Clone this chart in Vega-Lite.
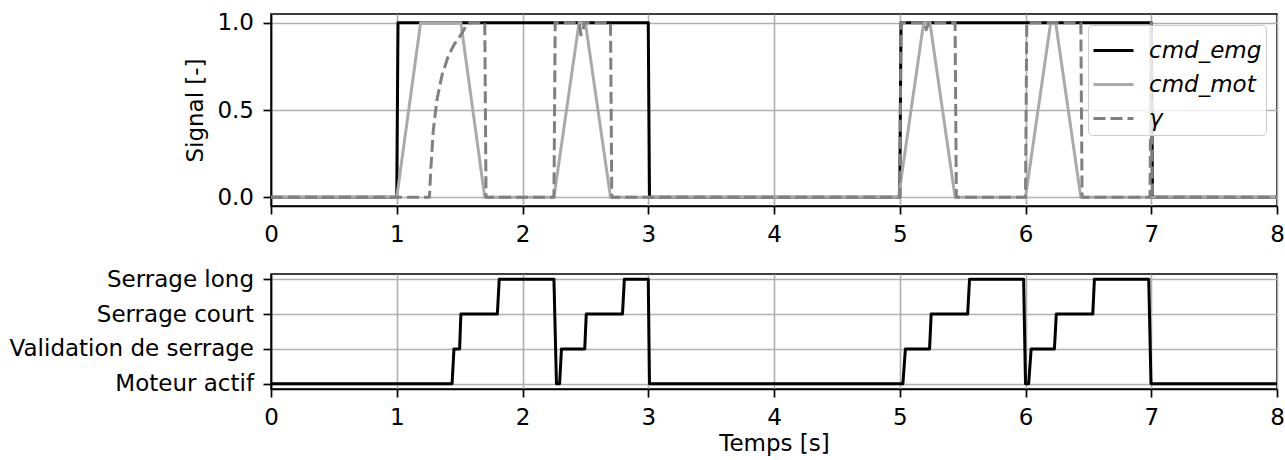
{
  "$schema": "https://vega.github.io/schema/vega-lite/v6.json",
  "padding": {"left": 8, "top": 10, "right": 0, "bottom": 5},
  "bounds": "flush",
  "spacing": 68,
  "datasets": {
    "sig": [
      {"t": 0, "v": 0, "s": "cmd_emg"}, {"t": 1.0, "v": 0, "s": "cmd_emg"}, {"t": 1.01, "v": 1, "s": "cmd_emg"}, {"t": 3.0, "v": 1, "s": "cmd_emg"}, {"t": 3.01, "v": 0, "s": "cmd_emg"}, {"t": 5.0, "v": 0, "s": "cmd_emg"}, {"t": 5.01, "v": 1, "s": "cmd_emg"}, {"t": 7.0, "v": 1, "s": "cmd_emg"}, {"t": 7.01, "v": 0, "s": "cmd_emg"}, {"t": 8, "v": 0, "s": "cmd_emg"},
      {"t": 0, "v": 0, "s": "cmd_mot"}, {"t": 1.0, "v": 0, "s": "cmd_mot"}, {"t": 1.19, "v": 1, "s": "cmd_mot"}, {"t": 1.51, "v": 1, "s": "cmd_mot"}, {"t": 1.70, "v": 0, "s": "cmd_mot"}, {"t": 2.25, "v": 0, "s": "cmd_mot"}, {"t": 2.45, "v": 1, "s": "cmd_mot"}, {"t": 2.50, "v": 1, "s": "cmd_mot"}, {"t": 2.70, "v": 0, "s": "cmd_mot"}, {"t": 4.99, "v": 0, "s": "cmd_mot"}, {"t": 5.19, "v": 1, "s": "cmd_mot"}, {"t": 5.24, "v": 1, "s": "cmd_mot"}, {"t": 5.44, "v": 0, "s": "cmd_mot"}, {"t": 6.0, "v": 0, "s": "cmd_mot"}, {"t": 6.20, "v": 1, "s": "cmd_mot"}, {"t": 6.24, "v": 1, "s": "cmd_mot"}, {"t": 6.44, "v": 0, "s": "cmd_mot"}, {"t": 8, "v": 0, "s": "cmd_mot"},
      {"t": 0, "v": 0, "s": "γ"}, {"t": 1.26, "v": 0, "s": "γ"}, {"t": 1.27, "v": 0.15, "s": "γ"}, {"t": 1.29, "v": 0.38, "s": "γ"}, {"t": 1.32, "v": 0.56, "s": "γ"}, {"t": 1.36, "v": 0.70, "s": "γ"}, {"t": 1.41, "v": 0.81, "s": "γ"}, {"t": 1.46, "v": 0.88, "s": "γ"}, {"t": 1.51, "v": 0.93, "s": "γ"}, {"t": 1.55, "v": 0.98, "s": "γ"}, {"t": 1.58, "v": 1, "s": "γ"}, {"t": 1.70, "v": 1, "s": "γ"}, {"t": 1.71, "v": 0, "s": "γ"}, {"t": 2.25, "v": 0, "s": "γ"}, {"t": 2.26, "v": 1, "s": "γ"}, {"t": 2.45, "v": 1, "s": "γ"}, {"t": 2.465, "v": 0.93, "s": "γ"}, {"t": 2.48, "v": 0.95, "s": "γ"}, {"t": 2.49, "v": 1, "s": "γ"}, {"t": 2.70, "v": 1, "s": "γ"}, {"t": 2.71, "v": 0, "s": "γ"}, {"t": 5.0, "v": 0, "s": "γ"}, {"t": 5.01, "v": 1, "s": "γ"}, {"t": 5.2, "v": 1, "s": "γ"}, {"t": 5.21, "v": 0.96, "s": "γ"}, {"t": 5.23, "v": 1, "s": "γ"}, {"t": 5.44, "v": 1, "s": "γ"}, {"t": 5.45, "v": 0, "s": "γ"}, {"t": 6.0, "v": 0, "s": "γ"}, {"t": 6.01, "v": 1, "s": "γ"}, {"t": 6.44, "v": 1, "s": "γ"}, {"t": 6.45, "v": 0, "s": "γ"}, {"t": 6.99, "v": 0, "s": "γ"}, {"t": 7.0, "v": 1, "s": "γ"}, {"t": 7.01, "v": 0, "s": "γ"}, {"t": 8, "v": 0, "s": "γ"}
    ],
    "state": [
      {"t": 0, "q": 0}, {"t": 1.44, "q": 0}, {"t": 1.455, "q": 1}, {"t": 1.50, "q": 1}, {"t": 1.51, "q": 2}, {"t": 1.80, "q": 2}, {"t": 1.815, "q": 3}, {"t": 2.25, "q": 3}, {"t": 2.27, "q": 0}, {"t": 2.295, "q": 0}, {"t": 2.31, "q": 1}, {"t": 2.495, "q": 1}, {"t": 2.507, "q": 2}, {"t": 2.795, "q": 2}, {"t": 2.81, "q": 3}, {"t": 3.0, "q": 3}, {"t": 3.01, "q": 0},
      {"t": 5.025, "q": 0}, {"t": 5.045, "q": 1}, {"t": 5.237, "q": 1}, {"t": 5.25, "q": 2}, {"t": 5.54, "q": 2}, {"t": 5.555, "q": 3}, {"t": 5.985, "q": 3}, {"t": 6.0, "q": 0}, {"t": 6.025, "q": 0}, {"t": 6.045, "q": 1}, {"t": 6.23, "q": 1}, {"t": 6.245, "q": 2}, {"t": 6.535, "q": 2}, {"t": 6.548, "q": 3}, {"t": 6.98, "q": 3}, {"t": 6.998, "q": 0}, {"t": 8, "q": 0}
    ]
  },
  "vconcat": [
    {
      "width": 1006,
      "height": 192,
      "data": {"name": "sig"},
      "encoding": {
        "x": {"field": "t", "type": "quantitative", "scale": {"domain": [0, 8], "nice": false, "zero": false},
              "axis": {"values": [0, 1, 2, 3, 4, 5, 6, 7, 8], "format": "d", "title": null, "labelFlush": false, "labelOverlap": false}},
        "y": {"field": "v", "type": "quantitative", "scale": {"domain": [-0.05, 1.05], "nice": false, "zero": false},
              "axis": {"values": [0, 0.5, 1], "format": ".1f", "title": "Signal [-]", "titlePadding": 9}},
        "color": {"field": "s", "type": "nominal", "scale": {"domain": ["cmd_emg", "cmd_mot", "γ"], "range": ["#000000", "#aaaaaa", "#808080"]},
                  "legend": {"title": null, "orient": "top-right", "offset": 11}},
        "strokeDash": {"field": "s", "type": "nominal", "scale": {"domain": ["cmd_emg", "cmd_mot", "γ"], "range": [[1, 0], [1, 0], [12, 5]]},
                  "legend": {"title": null, "orient": "top-right", "offset": 11}}
      },
      "layer": [
        {"transform": [{"filter": "datum.s === 'cmd_emg'"}], "mark": {"type": "line", "strokeWidth": 3, "strokeJoin": "round"}},
        {"transform": [{"filter": "datum.s === 'cmd_mot'"}], "mark": {"type": "line", "strokeWidth": 3, "strokeJoin": "round"}},
        {"transform": [{"filter": "datum.s === 'γ'"}], "mark": {"type": "line", "strokeWidth": 3, "strokeJoin": "round"}}
      ]
    },
    {
      "width": 1006,
      "height": 115,
      "data": {"name": "state"},
      "mark": {"type": "line", "color": "black", "strokeWidth": 3, "strokeJoin": "round"},
      "encoding": {
        "x": {"field": "t", "type": "quantitative", "scale": {"domain": [0, 8], "nice": false, "zero": false},
              "axis": {"values": [0, 1, 2, 3, 4, 5, 6, 7, 8], "format": "d", "title": "Temps [s]", "labelFlush": false, "labelOverlap": false, "titlePadding": 3}},
        "y": {"field": "q", "type": "quantitative", "scale": {"domain": [-0.15, 3.15], "nice": false, "zero": false},
              "axis": {"values": [0, 1, 2, 3], "title": null, "labelOverlap": false, "labelLimit": 0,
                       "labelExpr": "datum.value === 0 ? 'Moteur actif' : datum.value === 1 ? 'Validation de serrage' : datum.value === 2 ? 'Serrage court' : 'Serrage long'"}}
      }
    }
  ],
  "config": {
    "font": "DejaVu Sans",
    "view": {"stroke": "black", "strokeWidth": 1.7},
    "axis": {
      "labelFont": "DejaVu Sans", "labelFontSize": 23, "labelColor": "black", "labelLimit": 0,
      "titleFont": "DejaVu Sans", "titleFontSize": 23, "titleFontWeight": "normal", "titleColor": "black",
      "tickColor": "black", "tickSize": 8, "tickWidth": 1.7,
      "domainColor": "black", "domainWidth": 1.7,
      "gridColor": "#b0b0b0", "gridWidth": 1.6, "labelPadding": 9.5
    },
    "legend": {
      "labelFont": "DejaVu Sans", "labelFontSize": 23, "labelFontStyle": "italic", "labelColor": "black", "labelLimit": 0,
      "symbolType": "stroke", "symbolSize": 1600, "symbolStrokeWidth": 3,
      "fillColor": "rgba(255,255,255,0.8)", "strokeColor": "#cccccc", "cornerRadius": 4,
      "padding": 4, "rowPadding": -2, "labelOffset": 14
    }
  }
}
